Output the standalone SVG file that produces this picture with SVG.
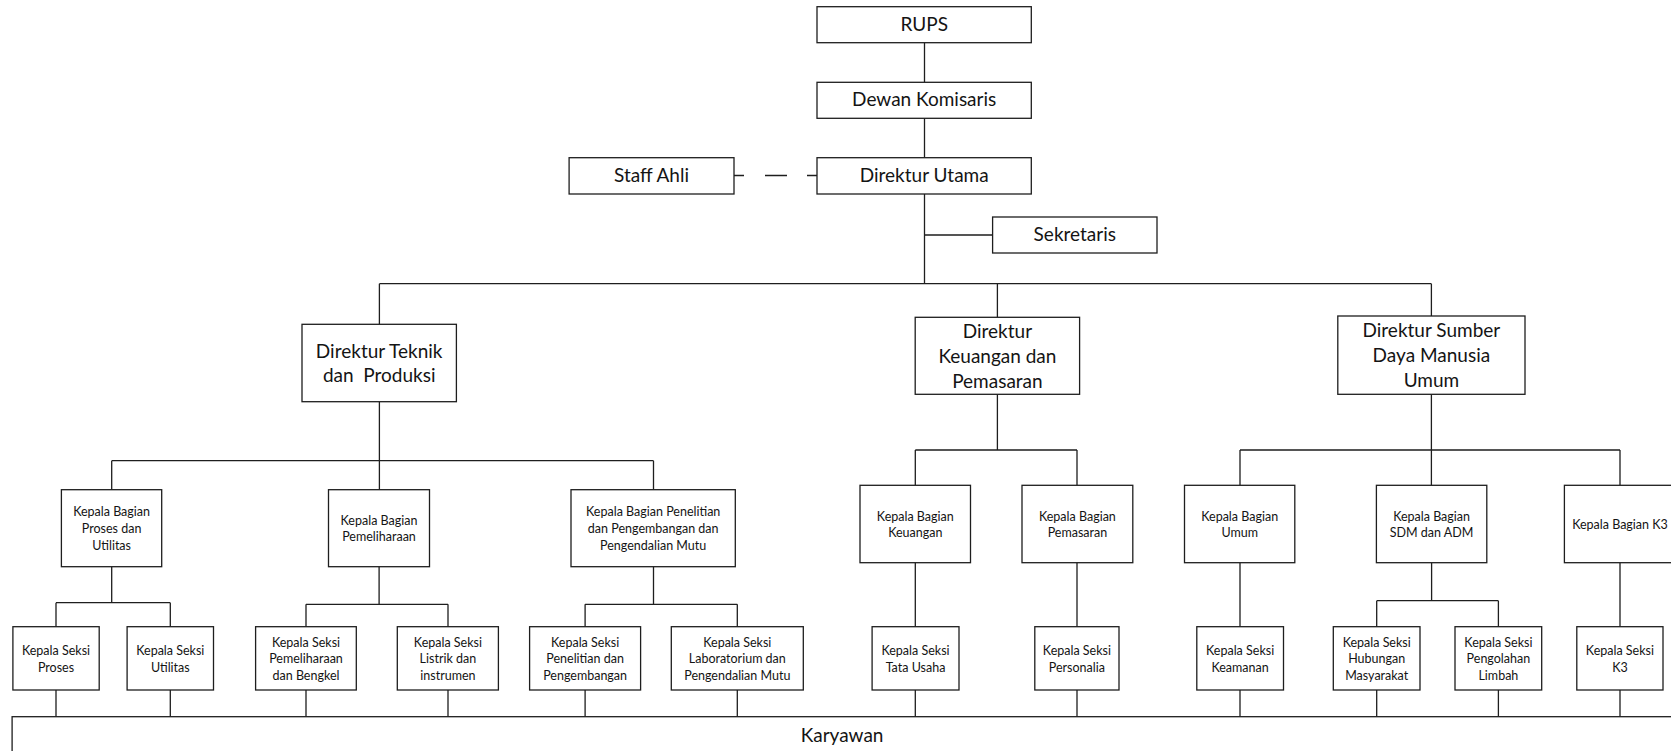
<svg xmlns="http://www.w3.org/2000/svg" width="1671" height="751" viewBox="0 0 1671 751">
  <style>
    .box { fill: #ffffff; stroke: #1e1e1e; stroke-width: 1.3; }
    .ln { fill: none; stroke: #1e1e1e; stroke-width: 1.3; }
    .dash { fill: none; stroke: #1e1e1e; stroke-width: 1.3; stroke-dasharray: 10 21 22 20 10 100; }
    text { font-family: Lato, "Open Sans", "Liberation Sans", sans-serif; fill: #141414; text-anchor: middle; }
    .big { font-size: 19px; }
    .sm { font-size: 12.5px; }
  </style>
  <rect width="1671" height="751" fill="#ffffff"/>

  <!-- connectors -->
  <g id="connectors">
    <path class="ln" d="M924.5 42.7 V82.3 M924.5 118.3 V157.7 M924.5 194 V283.7 M924.5 235 H992.6"/>
    <path class="dash" d="M734 175.5 H817"/>
    <path class="ln" d="M379.4 283.7 H1431.4 M379.4 283.7 V324.3 M997.4 283.7 V317.3 M1431.4 283.7 V316"/>
    <!-- Teknik dan Produksi branch -->
    <path class="ln" d="M379.4 401.7 V489.7 M111.7 460.7 H653.5 M111.7 460.7 V489.7 M653.5 460.7 V489.7"/>
    <!-- Keuangan dan Pemasaran branch -->
    <path class="ln" d="M997.4 394.3 V450 M915.3 450 H1077 M915.3 450 V485.3 M1077 450 V485.3"/>
    <!-- SDM dan Umum branch -->
    <path class="ln" d="M1431.4 394.3 V485.3 M1240 450 H1620 M1240 450 V485.3 M1620 450 V485.3"/>
    <!-- bagian to seksi -->
    <path class="ln" d="M111.7 566.7 V602.7 M56 602.7 H170.3 M56 602.7 V626.7 M170.3 602.7 V626.7"/>
    <path class="ln" d="M379.1 566.7 V604.3 M306 604.3 H448 M306 604.3 V626.7 M448 604.3 V626.7"/>
    <path class="ln" d="M653.5 566.7 V604.3 M585.1 604.3 H737.3 M585.1 604.3 V626.7 M737.3 604.3 V626.7"/>
    <path class="ln" d="M915.3 562.7 V626.7 M1077 562.7 V626.7 M1240 562.7 V626.7 M1620 562.7 V626.7"/>
    <path class="ln" d="M1431.6 562.7 V600.7 M1376.7 600.7 H1498.4 M1376.7 600.7 V626.7 M1498.4 600.7 V626.7"/>
    <!-- seksi to karyawan -->
    <path class="ln" d="M56 690 V716.7 M170.3 690 V716.7 M306 690 V716.7 M448 690 V716.7 M585.1 690 V716.7 M737.3 690 V716.7 M915.3 690 V716.7 M1077 690 V716.7 M1240 690 V716.7 M1376.7 690 V716.7 M1498.4 690 V716.7 M1620 690 V716.7"/>
  </g>

  <!-- top management -->
  <g id="rups"><rect class="box" x="817" y="6.7" width="214.3" height="36"/><text class="big" x="924.2" y="30.8">RUPS</text></g>
  <g id="dewan-komisaris"><rect class="box" x="817" y="82.3" width="214.3" height="36"/><text class="big" x="924.2" y="106.4">Dewan Komisaris</text></g>
  <g id="direktur-utama"><rect class="box" x="817" y="157.7" width="214.3" height="36.3"/><text class="big" x="924.2" y="182">Direktur Utama</text></g>
  <g id="staff-ahli"><rect class="box" x="569.1" y="157.7" width="164.9" height="36.3"/><text class="big" x="651.5" y="182">Staff Ahli</text></g>
  <g id="sekretaris"><rect class="box" x="992.6" y="217" width="164.4" height="36"/><text class="big" x="1074.8" y="241">Sekretaris</text></g>

  <!-- directors -->
  <g id="direktur-teknik"><rect class="box" x="302" y="324.3" width="154.4" height="77.4"/>
    <text class="big" style="white-space:pre"><tspan x="379.2" y="357.8">Direktur Teknik</tspan><tspan x="379.2" y="382.3">dan  Produksi</tspan></text></g>
  <g id="direktur-keuangan"><rect class="box" x="915.2" y="317.3" width="164.4" height="77"/>
    <text class="big"><tspan x="997.4" y="337.8">Direktur</tspan><tspan x="997.4" y="362.8">Keuangan dan</tspan><tspan x="997.4" y="387.8">Pemasaran</tspan></text></g>
  <g id="direktur-sdm"><rect class="box" x="1337.8" y="316" width="187.2" height="78.3"/>
    <text class="big"><tspan x="1431.4" y="337.2">Direktur Sumber</tspan><tspan x="1431.4" y="362.2">Daya Manusia</tspan><tspan x="1431.4" y="387.2">Umum</tspan></text></g>

  <!-- kepala bagian -->
  <g id="kb-proses"><rect class="box" x="61.4" y="489.7" width="100.3" height="77"/>
    <text class="sm"><tspan x="111.6" y="516.4">Kepala Bagian</tspan><tspan x="111.6" y="533">Proses dan</tspan><tspan x="111.6" y="549.6">Utilitas</tspan></text></g>
  <g id="kb-pemeliharaan"><rect class="box" x="328.5" y="489.7" width="101" height="77"/>
    <text class="sm"><tspan x="379" y="524.7">Kepala Bagian</tspan><tspan x="379" y="541.3">Pemeliharaan</tspan></text></g>
  <g id="kb-penelitian"><rect class="box" x="571" y="489.7" width="164.3" height="77"/>
    <text class="sm"><tspan x="653.2" y="516.4">Kepala Bagian Penelitian</tspan><tspan x="653.2" y="533">dan Pengembangan dan</tspan><tspan x="653.2" y="549.6">Pengendalian Mutu</tspan></text></g>
  <g id="kb-keuangan"><rect class="box" x="860" y="485.3" width="110.5" height="77.4"/>
    <text class="sm"><tspan x="915.3" y="520.5">Kepala Bagian</tspan><tspan x="915.3" y="537.1">Keuangan</tspan></text></g>
  <g id="kb-pemasaran"><rect class="box" x="1022" y="485.3" width="110.8" height="77.4"/>
    <text class="sm"><tspan x="1077.4" y="520.5">Kepala Bagian</tspan><tspan x="1077.4" y="537.1">Pemasaran</tspan></text></g>
  <g id="kb-umum"><rect class="box" x="1184.5" y="485.3" width="110.3" height="77.4"/>
    <text class="sm"><tspan x="1239.7" y="520.5">Kepala Bagian</tspan><tspan x="1239.7" y="537.1">Umum</tspan></text></g>
  <g id="kb-sdm"><rect class="box" x="1376.4" y="485.3" width="110.4" height="77.4"/>
    <text class="sm"><tspan x="1431.6" y="520.5">Kepala Bagian</tspan><tspan x="1431.6" y="537.1">SDM dan ADM</tspan></text></g>
  <g id="kb-k3"><rect class="box" x="1564.4" y="485.3" width="112" height="77.4"/>
    <text class="sm" x="1620" y="528.8">Kepala Bagian K3</text></g>

  <!-- kepala seksi -->
  <g id="ks-proses"><rect class="box" x="12.9" y="626.7" width="86.3" height="63.3"/>
    <text class="sm"><tspan x="56" y="654.9">Kepala Seksi</tspan><tspan x="56" y="671.5">Proses</tspan></text></g>
  <g id="ks-utilitas"><rect class="box" x="127.1" y="626.7" width="86.4" height="63.3"/>
    <text class="sm"><tspan x="170.3" y="654.9">Kepala Seksi</tspan><tspan x="170.3" y="671.5">Utilitas</tspan></text></g>
  <g id="ks-pemeliharaan"><rect class="box" x="255.6" y="626.7" width="100.7" height="63.3"/>
    <text class="sm"><tspan x="306" y="646.6">Kepala Seksi</tspan><tspan x="306" y="663.2">Pemeliharaan</tspan><tspan x="306" y="679.8">dan Bengkel</tspan></text></g>
  <g id="ks-listrik"><rect class="box" x="397.3" y="626.7" width="101.1" height="63.3"/>
    <text class="sm"><tspan x="447.9" y="646.6">Kepala Seksi</tspan><tspan x="447.9" y="663.2">Listrik dan</tspan><tspan x="447.9" y="679.8">instrumen</tspan></text></g>
  <g id="ks-penelitian"><rect class="box" x="529.6" y="626.7" width="111" height="63.3"/>
    <text class="sm"><tspan x="585.1" y="646.6">Kepala Seksi</tspan><tspan x="585.1" y="663.2">Penelitian dan</tspan><tspan x="585.1" y="679.8">Pengembangan</tspan></text></g>
  <g id="ks-laboratorium"><rect class="box" x="671.3" y="626.7" width="132" height="63.3"/>
    <text class="sm"><tspan x="737.3" y="646.6">Kepala Seksi</tspan><tspan x="737.3" y="663.2">Laboratorium dan</tspan><tspan x="737.3" y="679.8">Pengendalian Mutu</tspan></text></g>
  <g id="ks-tata-usaha"><rect class="box" x="872.1" y="626.7" width="86.9" height="63.3"/>
    <text class="sm"><tspan x="915.5" y="654.9">Kepala Seksi</tspan><tspan x="915.5" y="671.5">Tata Usaha</tspan></text></g>
  <g id="ks-personalia"><rect class="box" x="1034.8" y="626.7" width="84.2" height="63.3"/>
    <text class="sm"><tspan x="1076.9" y="654.9">Kepala Seksi</tspan><tspan x="1076.9" y="671.5">Personalia</tspan></text></g>
  <g id="ks-keamanan"><rect class="box" x="1196.8" y="626.7" width="86.7" height="63.3"/>
    <text class="sm"><tspan x="1240.1" y="654.9">Kepala Seksi</tspan><tspan x="1240.1" y="671.5">Keamanan</tspan></text></g>
  <g id="ks-humas"><rect class="box" x="1333.3" y="626.7" width="86.7" height="63.3"/>
    <text class="sm"><tspan x="1376.7" y="646.6">Kepala Seksi</tspan><tspan x="1376.7" y="663.2">Hubungan</tspan><tspan x="1376.7" y="679.8">Masyarakat</tspan></text></g>
  <g id="ks-limbah"><rect class="box" x="1455" y="626.7" width="86.7" height="63.3"/>
    <text class="sm"><tspan x="1498.4" y="646.6">Kepala Seksi</tspan><tspan x="1498.4" y="663.2">Pengolahan</tspan><tspan x="1498.4" y="679.8">Limbah</tspan></text></g>
  <g id="ks-k3"><rect class="box" x="1576.8" y="626.7" width="86.2" height="63.3"/>
    <text class="sm"><tspan x="1619.9" y="654.9">Kepala Seksi</tspan><tspan x="1619.9" y="671.5">K3</tspan></text></g>

  <!-- staff -->
  <g id="karyawan"><rect class="box" x="12.1" y="716.7" width="1660" height="50"/>
    <text class="big" x="842.1" y="741.7">Karyawan</text></g>
</svg>
